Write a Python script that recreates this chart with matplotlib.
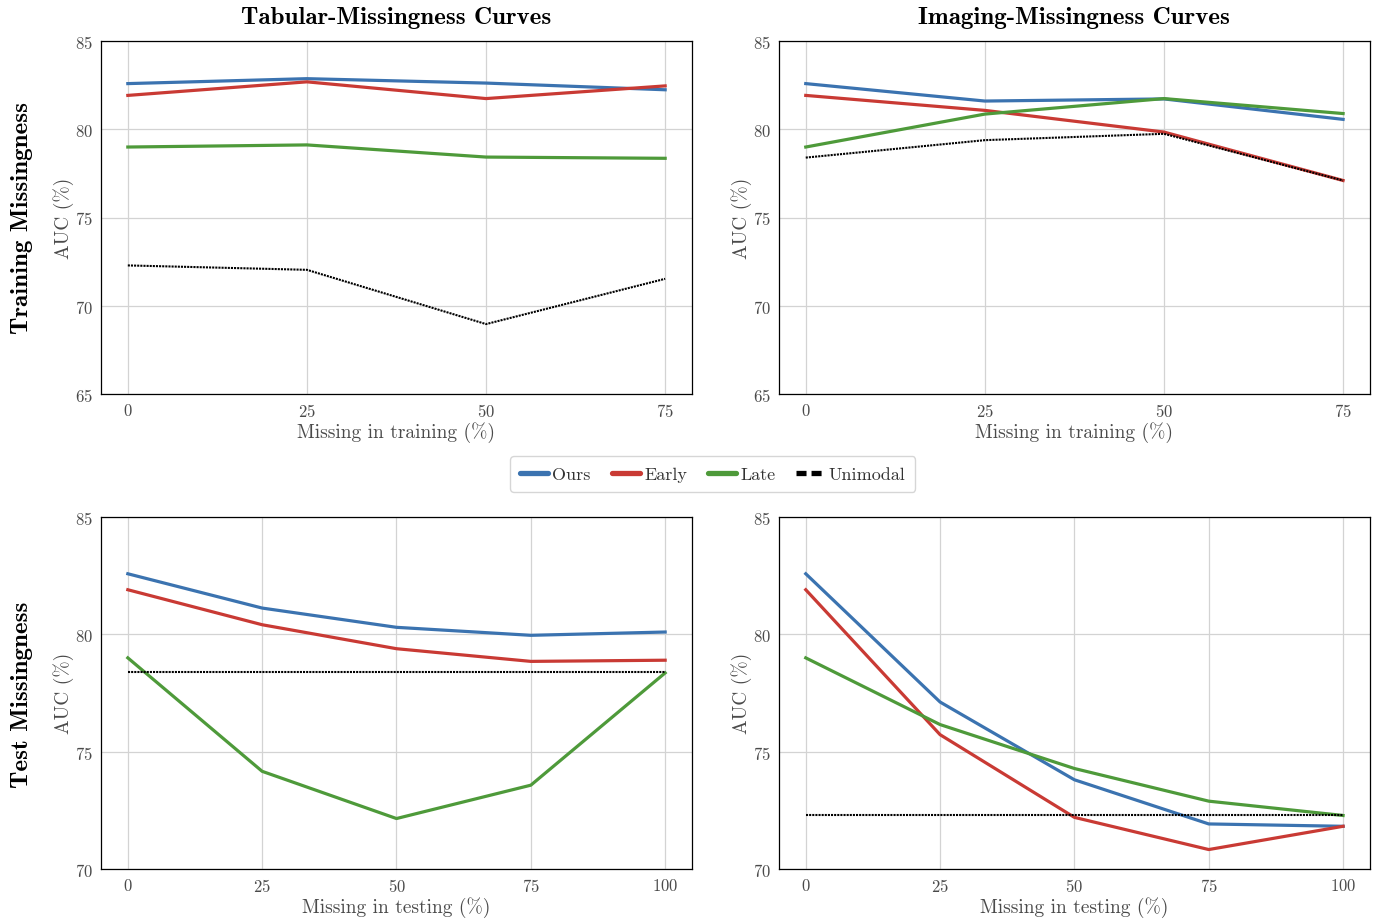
import matplotlib
matplotlib.use("Agg")
import matplotlib.pyplot as plt
from matplotlib.lines import Line2D

plt.rcParams['font.family'] = ['cmr10']
plt.rcParams['mathtext.fontset'] = 'cm'
plt.rcParams['axes.formatter.use_mathtext'] = True

# colors
c_ours = '#3b73b0'
c_early = '#c93a34'
c_late = '#4e9a3a'
c_uni = 'black'
txt_gray = '#4a4a4a'

# training missingness (x = % missing in training)
x_train = [0, 25, 50, 75]
tab_train_ours = [82.6, 82.88, 82.63, 82.25]
tab_train_early = [81.93, 82.7, 81.75, 82.47]
tab_train_late = [79.0, 79.12, 78.43, 78.36]
tab_train_uni = [72.28, 72.03, 68.95, 71.52]

img_train_ours = [82.6, 81.61, 81.73, 80.57]
img_train_early = [81.93, 81.08, 79.85, 77.1]
img_train_late = [79.0, 80.87, 81.75, 80.9]
img_train_uni = [78.4, 79.39, 79.75, 77.1]

# test missingness (x = % missing in testing)
x_test = [0, 25, 50, 75, 100]
tab_test_ours = [82.57, 81.11, 80.29, 79.95, 80.09]
tab_test_early = [81.89, 80.4, 79.38, 78.84, 78.89]
tab_test_late = [78.99, 74.16, 72.15, 73.57, 78.35]
tab_test_uni = [78.37, 78.37, 78.37, 78.37, 78.37]

img_test_ours = [82.57, 77.11, 73.8, 71.92, 71.82]
img_test_early = [81.89, 75.72, 72.2, 70.83, 71.82]
img_test_late = [78.99, 76.15, 74.28, 72.89, 72.28]
img_test_uni = [72.3, 72.3, 72.3, 72.3, 72.3]

col_titles = ['Tabular-Missingness Curves', 'Imaging-Missingness Curves']
row_titles = ['Training Missingness', 'Test Missingness']
labels = ['Ours', 'Early', 'Late', 'Unimodal']

panels = [
    [(x_train, tab_train_ours, tab_train_early, tab_train_late, tab_train_uni),
     (x_train, img_train_ours, img_train_early, img_train_late, img_train_uni)],
    [(x_test, tab_test_ours, tab_test_early, tab_test_late, tab_test_uni),
     (x_test, img_test_ours, img_test_early, img_test_late, img_test_uni)],
]
xlabels = ['Missing in training (%)', 'Missing in testing (%)']
ylims = [(65, 85), (70, 85)]
yticks = [[65, 70, 75, 80, 85], [70, 75, 80, 85]]

fig = plt.figure(figsize=(13.81, 9.2), dpi=100)
lefts = [0.0731, 0.564]
bottoms = [0.571, 0.0543]
w, h = 0.428, 0.383

for r in range(2):
    for c in range(2):
        ax = fig.add_axes([lefts[c], bottoms[r], w, h])
        x, ours, early, late, uni = panels[r][c]
        ax.plot(x, ours, color=c_ours, lw=2.3, zorder=3)
        ax.plot(x, early, color=c_early, lw=2.3, zorder=3)
        ax.plot(x, late, color=c_late, lw=2.3, zorder=3)
        ax.plot(x, uni, color=c_uni, lw=1.5, dashes=(1.0, 0.5), zorder=4)
        ax.set_ylim(*ylims[r])
        ax.set_yticks(yticks[r])
        ax.set_xticks(x)
        ax.grid(True, color='#d3d3d3', lw=0.9)
        ax.set_axisbelow(True)
        ax.tick_params(length=0, labelsize=12, labelcolor=txt_gray, pad=6)
        for s in ax.spines.values():
            s.set_color('black')
            s.set_linewidth(0.9)
        ax.set_xlabel(xlabels[r], fontsize=14, color=txt_gray, labelpad=1.5)
        ax.set_ylabel('AUC (%)', fontsize=14, color=txt_gray, labelpad=0.5)
        if r == 0:
            ax.set_title(col_titles[c], fontsize=18, fontfamily='cmb10',
                         fontweight='bold', pad=13)

for r, yc in enumerate([0.763, 0.245]):
    fig.text(0.016, yc, row_titles[r], rotation=90, fontsize=18,
             fontfamily='cmb10', fontweight='bold', ha='center', va='center')

handles = [
    Line2D([], [], color=c_ours, lw=3.8, solid_capstyle='round'),
    Line2D([], [], color=c_early, lw=3.8, solid_capstyle='round'),
    Line2D([], [], color=c_late, lw=3.8, solid_capstyle='round'),
    Line2D([], [], color=c_uni, lw=3.8, dashes=(1.9, 0.95)),
]
leg = fig.legend(handles, labels, loc='center', bbox_to_anchor=(0.516, 0.4835),
                 ncol=4, fontsize=13, frameon=True, handlelength=1.55,
                 handletextpad=0.25, columnspacing=1.15, borderpad=0.55,
                 borderaxespad=0)
leg.get_frame().set_edgecolor('#cccccc')
leg.get_frame().set_linewidth(1.0)
for t in leg.get_texts():
    t.set_color('#333333')

fig.savefig('out.png', dpi=100)
